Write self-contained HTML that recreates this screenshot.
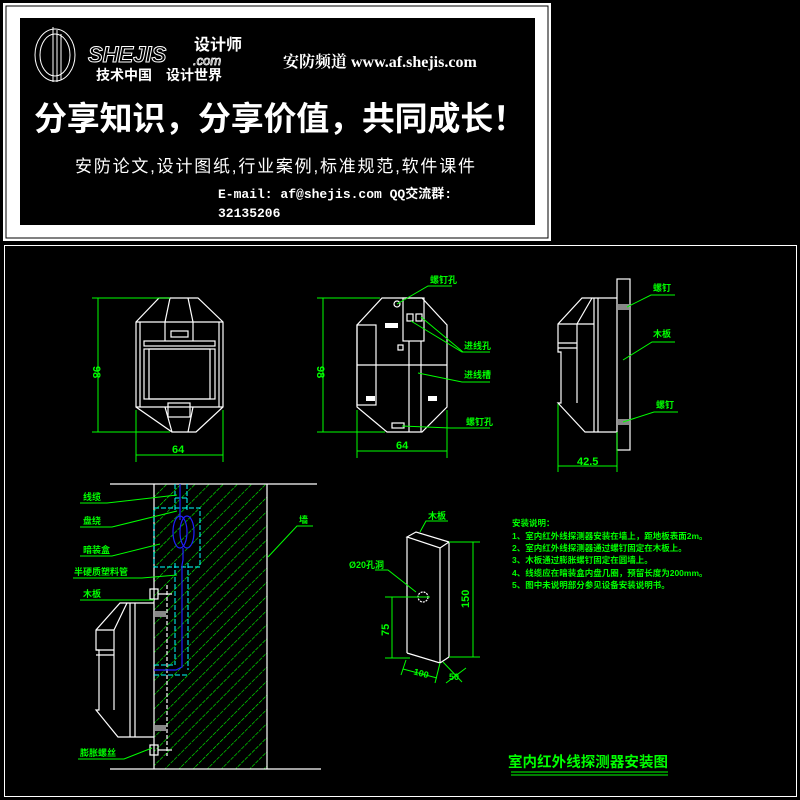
<!DOCTYPE html>
<html><head><meta charset="utf-8"><style>
html,body{margin:0;padding:0;background:#000;width:800px;height:800px;overflow:hidden}
svg{display:block}
.w{stroke:#fff;fill:none;stroke-width:1.2}
.g{stroke:#00ff00;fill:none;stroke-width:1}
.gt{fill:#00ff00;font-family:"Liberation Sans","Noto Sans CJK SC",sans-serif;font-weight:bold}
.c{stroke:#00ffff;fill:none;stroke-width:1;stroke-dasharray:5 2}
</style></head><body>
<svg width="800" height="800" viewBox="0 0 800 800" xmlns="http://www.w3.org/2000/svg">
<defs>
<pattern id="h" width="10" height="10" patternUnits="userSpaceOnUse" patternTransform="rotate(45)">
<line x1="0" y1="0" x2="0" y2="10" stroke="#00ff00" stroke-width="1.2" stroke-dasharray="4 1"/>
</pattern>
</defs>
<!-- banner -->
<rect x="3" y="3" width="548" height="238" fill="#fff"/>
<rect x="6" y="6" width="542" height="232" fill="none" stroke="#000" stroke-width="1"/>
<rect x="20" y="18" width="515" height="207" fill="#000"/>
<g stroke="#fff" fill="none" stroke-width="1">
<ellipse cx="55" cy="55" rx="20" ry="26"/>
<ellipse cx="55" cy="55" rx="15" ry="21"/>
<line x1="53" y1="27" x2="53" y2="82"/><line x1="57" y1="30" x2="57" y2="82"/><line x1="61" y1="34" x2="61" y2="80"/>
</g>
<text x="88" y="62" fill="none" stroke="#fff" stroke-width="1" font-family="Liberation Sans,sans-serif" font-style="italic" font-weight="bold" font-size="22">SHEJIS</text>
<text x="194" y="50" fill="#fff" font-family="Liberation Sans,'Noto Sans CJK SC',sans-serif" font-size="16" font-weight="bold">设计师</text>
<text x="193" y="65" fill="none" stroke="#fff" stroke-width="0.8" font-family="Liberation Sans,sans-serif" font-style="italic" font-size="13">.com</text>
<text x="96" y="80" fill="#fff" font-family="Liberation Sans,'Noto Sans CJK SC',sans-serif" font-size="14" font-weight="bold">技术中国　设计世界</text>
<text x="283" y="67" fill="#fff" font-family="Liberation Serif,'Noto Serif CJK SC',serif" font-size="16" font-weight="bold">安防频道 www.af.shejis.com</text>
<text x="34" y="130" fill="#fff" font-family="Liberation Sans,'Noto Sans CJK SC',sans-serif" font-size="33" font-weight="bold" textLength="492">分享知识，分享价值，共同成长！</text>
<text x="75" y="172" fill="#fff" font-family="Liberation Sans,'Noto Sans CJK SC',sans-serif" font-size="17" textLength="400">安防论文,设计图纸,行业案例,标准规范,软件课件</text>
<text x="218" y="198" fill="#fff" font-family="Liberation Mono,'Noto Sans CJK SC',monospace" font-size="13" font-weight="bold">E-mail: af@shejis.com   QQ交流群:</text>
<text x="218" y="217" fill="#fff" font-family="Liberation Mono,monospace" font-size="13" font-weight="bold">32135206</text>
<!-- lower frame -->
<rect x="4.5" y="245.5" width="792" height="551" fill="none" stroke="#fff" stroke-width="1"/>

<!-- front view -->
<g class="w">
<polygon points="159,298 198,298 223,322 223,407 196,432 172,432 136,407 136,322"/>
<line x1="136" y1="322" x2="223" y2="322"/><line x1="140" y1="322" x2="140" y2="407"/><line x1="219" y1="322" x2="219" y2="407"/>
<line x1="136" y1="407" x2="223" y2="407"/>
<line x1="170" y1="298" x2="165" y2="322"/><line x1="188" y1="298" x2="193" y2="322"/>
<line x1="165" y1="322" x2="165" y2="341"/><line x1="193" y1="322" x2="193" y2="341"/>
<rect x="171" y="331" width="17" height="6"/>
<rect x="144" y="341" width="71" height="5"/>
<rect x="144" y="349" width="71" height="50"/><rect x="149" y="349" width="61" height="50"/>
<rect x="168" y="403" width="22" height="14"/>
<line x1="165" y1="407" x2="172" y2="432"/><line x1="193" y1="407" x2="188" y2="432"/>
</g>
<g class="g">
<line x1="92" y1="298" x2="170" y2="298"/><line x1="92" y1="432" x2="170" y2="432"/>
<line x1="98" y1="298" x2="98" y2="432"/>
<line x1="136" y1="410" x2="136" y2="462"/><line x1="223" y1="410" x2="223" y2="462"/>
<line x1="136" y1="455" x2="223" y2="455"/>
</g>
<text class="gt" x="0" y="0" font-size="11" font-weight="normal" transform="translate(93,366) rotate(90)">98</text>
<text class="gt" x="172" y="453" font-size="11" font-weight="normal">64</text>

<!-- back view -->
<g class="w">
<polygon points="382,298 422,298 447,325 447,407 422,432 387,432 357,407 357,325"/>
<rect x="357" y="325" width="19" height="80"/>
<rect x="403" y="298" width="21" height="43"/>
<line x1="409" y1="341" x2="409" y2="432"/><line x1="421" y1="341" x2="421" y2="432"/>
<line x1="357" y1="365" x2="447" y2="365"/>
<circle cx="397" cy="304" r="3"/>
<rect x="407" y="314" width="6" height="7"/><rect x="416" y="314" width="6" height="7"/>
<rect x="398" y="345" width="5" height="5"/>
<rect x="392" y="423" width="12" height="5"/>
</g>
<rect x="385" y="323" width="13" height="5" fill="#fff"/>
<rect x="366" y="396" width="9" height="5" fill="#fff"/>
<rect x="428" y="396" width="9" height="5" fill="#fff"/>
<g class="g">
<line x1="317" y1="298" x2="380" y2="298"/><line x1="317" y1="432" x2="385" y2="432"/>
<line x1="323" y1="298" x2="323" y2="432"/>
<line x1="357" y1="410" x2="357" y2="458"/><line x1="447" y1="410" x2="447" y2="458"/>
<line x1="357" y1="451" x2="447" y2="451"/>
<polyline points="397,304 428,286 452,286"/>
<polyline points="411,321 462,352 490,352"/>
<polyline points="421,317 463,352"/>
<polyline points="418,373 462,382 490,382"/>
<polyline points="402,426 450,428 490,428"/>
</g>
<text class="gt" x="0" y="0" font-size="11" font-weight="normal" transform="translate(317,366) rotate(90)">98</text>
<text class="gt" x="396" y="449" font-size="11" font-weight="normal">64</text>
<text class="gt" x="430" y="283" font-size="9">螺钉孔</text>
<text class="gt" x="464" y="349" font-size="9">进线孔</text>
<text class="gt" x="464" y="378" font-size="9">进线槽</text>
<text class="gt" x="466" y="425" font-size="9">螺钉孔</text>

<!-- side view -->
<g class="w">
<rect x="617" y="279" width="13" height="171"/>
<polyline points="617,298 582,298 558,324 558,352 561,352 561,403 558,403 585,432 617,432"/>
<line x1="558" y1="324" x2="594" y2="324"/><line x1="577" y1="324" x2="577" y2="403"/>
<line x1="558" y1="343" x2="577" y2="343"/><line x1="558" y1="348" x2="577" y2="348"/>
<line x1="594" y1="298" x2="594" y2="432"/><line x1="598" y1="298" x2="598" y2="432"/>
<line x1="592" y1="298" x2="577" y2="324"/>
</g>
<rect x="618" y="304" width="11" height="6" fill="#888"/>
<rect x="618" y="419" width="11" height="6" fill="#888"/>
<g class="g">
<line x1="558" y1="404" x2="558" y2="472"/><line x1="617" y1="432" x2="617" y2="472"/>
<line x1="558" y1="466" x2="617" y2="466"/>
<polyline points="627,307 651,295 675,295"/>
<polyline points="623,360 652,342 675,342"/>
<polyline points="623,422 654,412 678,412"/>
</g>
<text class="gt" x="577" y="465" font-size="11" font-weight="normal">42.5</text>
<text class="gt" x="653" y="291" font-size="9">螺钉</text>
<text class="gt" x="653" y="337" font-size="9">木板</text>
<text class="gt" x="656" y="408" font-size="9">螺钉</text>

<!-- section view -->
<rect x="154" y="484" width="113" height="285" fill="url(#h)"/>
<g class="w">
<line x1="110" y1="484" x2="317" y2="484"/><line x1="110" y1="769" x2="321" y2="769"/>
<line x1="154" y1="484" x2="154" y2="769"/><line x1="267" y1="484" x2="267" y2="769"/>
<line x1="167" y1="585" x2="167" y2="756" stroke-dasharray="4 2"/>
<polyline points="154,603 120,603 96,630 96,650 99,650 99,710 96,710 118,737 154,737"/>
<line x1="96" y1="630" x2="114" y2="630"/><line x1="114" y1="630" x2="114" y2="710"/>
<line x1="96" y1="650" x2="114" y2="650"/><line x1="96" y1="655" x2="114" y2="655"/>
<line x1="130" y1="603" x2="130" y2="737"/><line x1="135" y1="603" x2="135" y2="737"/>
<line x1="127" y1="603" x2="114" y2="630"/>
<rect x="150" y="589" width="8" height="10"/><line x1="158" y1="594" x2="172" y2="594"/>
<rect x="150" y="745" width="8" height="10"/><line x1="158" y1="750" x2="172" y2="750"/>
</g>
<rect x="155" y="611" width="11" height="6" fill="#888"/>
<rect x="155" y="725" width="11" height="6" fill="#888"/>
<g class="c">
<rect x="154" y="508" width="46" height="59"/>
<line x1="175" y1="484" x2="175" y2="512"/><line x1="187" y1="484" x2="187" y2="512"/>
<line x1="175" y1="498" x2="187" y2="498"/>
<line x1="175" y1="563" x2="175" y2="665"/><line x1="188" y1="563" x2="188" y2="670"/>
<line x1="154" y1="675" x2="188" y2="675"/><line x1="154" y1="665" x2="175" y2="665"/>
</g>
<g stroke="#2020ff" fill="none" stroke-width="1.2">
<line x1="180" y1="484" x2="180" y2="520"/>
<ellipse cx="180" cy="532" rx="7" ry="16"/><ellipse cx="187" cy="532" rx="7" ry="16"/>
<polyline points="183,548 183,560 182,565 182,667 176,670 154,670"/>
</g>
<g class="g">
<polyline points="80,503 107,503 177,495"/>
<polyline points="80,527 112,527 177,511"/>
<polyline points="80,556 112,556 160,544"/>
<polyline points="73,578 142,578 177,575"/>
<polyline points="80,600 154,600"/>
<polyline points="78,759 124,759 152,748"/>
<polyline points="313,526 297,526 268,557"/>
</g>
<text class="gt" x="83" y="500" font-size="9">线缆</text>
<text class="gt" x="83" y="524" font-size="9">盘绕</text>
<text class="gt" x="83" y="553" font-size="9">暗装盒</text>
<text class="gt" x="74" y="575" font-size="9">半硬质塑料管</text>
<text class="gt" x="83" y="597" font-size="9">木板</text>
<text class="gt" x="80" y="756" font-size="9">膨胀螺丝</text>
<text class="gt" x="299" y="523" font-size="9">墙</text>

<!-- wood block -->
<g class="w">
<polygon points="407,537 416,532 449,542 440,548"/>
<line x1="407" y1="537" x2="407" y2="653"/><line x1="440" y1="548" x2="440" y2="663"/><line x1="449" y1="542" x2="449" y2="657"/>
<polyline points="407,653 440,663 449,657"/>
<circle cx="423" cy="597" r="5" stroke-dasharray="2 1"/>
</g>
<g class="g">
<line x1="449" y1="542" x2="480" y2="542"/><line x1="449" y1="657" x2="480" y2="657"/>
<line x1="473" y1="542" x2="473" y2="657"/>
<line x1="385" y1="597" x2="430" y2="597"/><line x1="385" y1="658" x2="410" y2="658"/>
<line x1="392" y1="597" x2="392" y2="658"/>
<line x1="406" y1="660" x2="401" y2="675"/><line x1="440" y1="663" x2="435" y2="683"/>
<line x1="403" y1="669" x2="437" y2="678"/>
<line x1="443" y1="662" x2="462" y2="682"/><line x1="446" y1="683" x2="466" y2="668"/>
<polyline points="420,532 426,521 448,521"/>
<polyline points="375,570 388,570 416,592"/>
</g>
<text class="gt" x="0" y="0" font-size="11" font-weight="normal" transform="translate(469,608) rotate(-90)">150</text>
<text class="gt" x="0" y="0" font-size="11" font-weight="normal" transform="translate(389,636) rotate(-90)">75</text>
<text class="gt" x="414" y="676" font-size="9" font-weight="normal" transform="rotate(15 420 672)">100</text>
<text class="gt" x="449" y="680" font-size="9" font-weight="normal">50</text>
<text class="gt" x="428" y="519" font-size="9">木板</text>
<text class="gt" x="349" y="568" font-size="9" font-weight="normal">Ø20孔洞</text>

<!-- notes -->
<g class="gt" font-size="8.5">
<text x="512" y="526">安装说明：</text>
<text x="512" y="539">1、室内红外线探测器安装在墙上，距地板表面2m。</text>
<text x="512" y="551">2、室内红外线探测器通过螺钉固定在木板上。</text>
<text x="512" y="563">3、木板通过膨胀螺钉固定在圆墙上。</text>
<text x="512" y="576">4、线缆应在暗装盒内盘几圈，预留长度为200mm。</text>
<text x="512" y="582" dy="6">5、图中未说明部分参见设备安装说明书。</text>
</g>
<text class="gt" x="508" y="767" font-size="14.5" textLength="160">室内红外线探测器安装图</text>
<line x1="511" y1="772" x2="668" y2="772" stroke="#00ff00"/>
<line x1="511" y1="775" x2="668" y2="775" stroke="#00ff00"/>
</svg>
</body></html>
